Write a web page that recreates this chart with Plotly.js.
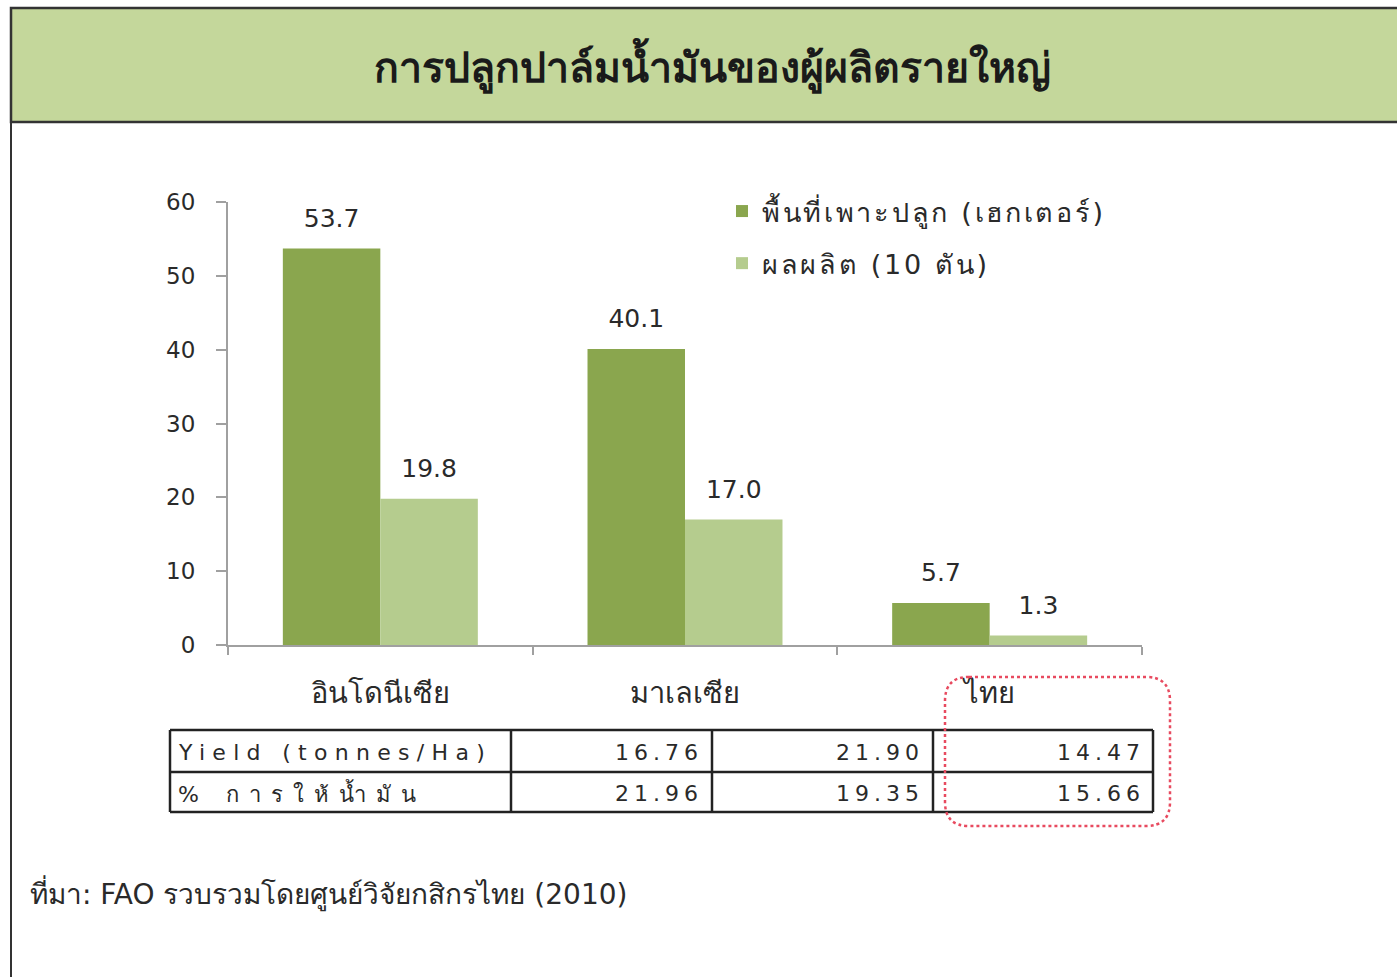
<!DOCTYPE html>
<html>
<head>
<meta charset="utf-8">
<script src="https://cdn.plot.ly/plotly-3.0.1.min.js"></script>
<style>html,body{margin:0;padding:0;background:#fff;}#chart{width:1397px;height:977px;}</style>
</head>
<body>
<div id="chart"></div>
<script>
// ---- data ----
const countries = ['อินโดนีเซีย', 'มาเลเซีย', 'ไทย'];
const seriesNames = ['พื้นที่เพาะปลูก (เฮกเตอร์)', 'ผลผลิต (10 ตัน)'];
const plantedArea = [53.7, 40.1, 5.7];
const production = [19.8, 17.0, 1.3];
const rowLabels = ['Yield (tonnes/Ha)', '% การให้น้ำมัน'];
const yieldValues = ['16.76', '21.90', '14.47'];
const oilPercent = ['21.96', '19.35', '15.66'];
const yTicks = [0, 10, 20, 30, 40, 50, 60];
const titleText = 'การปลูกปาล์มน้ำมันของผู้ผลิตรายใหญ่';
const sourceText = 'ที่มา: FAO รวบรวมโดยศูนย์วิจัยกสิกรไทย (2010)';

// ---- pixel helpers (plot area) ----
const L = 228, R = 1142, T = 202, B = 645, W = 1397, H = 977;
const px = x => (x - L) / (R - L);
const py = y => (B - y) / (B - T);

const FONT = '"DejaVu Sans", "Noto Sans", sans-serif';
const TXT = '#2a2a2a';
const ls = (s, n) => '<span style="letter-spacing:' + n + 'px">' + s + '</span>';

const labelTpl = '<span style="font-size:25px">%{y:.1f}</span><br> ';
const traces = [
  {type: 'bar', name: ls(seriesNames[0], 2.7), x: countries, y: plantedArea,
   marker: {color: '#8aa64e'}, texttemplate: labelTpl, textposition: 'outside',
   textfont: {size: 12, color: TXT, family: FONT}, cliponaxis: false, hoverinfo: 'skip',
   legendgroup: 'a'},
  {type: 'bar', name: ls(seriesNames[1], 2.7), x: countries, y: production,
   marker: {color: '#b5cc8e'}, texttemplate: labelTpl, textposition: 'outside',
   textfont: {size: 12, color: TXT, family: FONT}, cliponaxis: false, hoverinfo: 'skip',
   legendgroup: 'b'}
];

const shapes = [];
const annotations = [];

// header band
shapes.push({type: 'rect', xref: 'paper', yref: 'paper', layer: 'below',
  x0: px(11), x1: px(1405), y0: py(122), y1: py(8),
  fillcolor: '#c4d79b', line: {color: '#333', width: 2.5}});
// left border
shapes.push({type: 'line', xref: 'paper', yref: 'paper',
  x0: px(11), x1: px(11), y0: py(122), y1: py(985), line: {color: '#333', width: 2}});

// table grid
const tX = [170, 511, 712, 933, 1153];
const tY = [730, 772, 812];
tY.forEach(y => shapes.push({type: 'line', xref: 'paper', yref: 'paper',
  x0: px(tX[0]), x1: px(tX[tX.length - 1]), y0: py(y), y1: py(y), line: {color: '#222', width: 2.5}}));
tX.forEach(x => shapes.push({type: 'line', xref: 'paper', yref: 'paper',
  x0: px(x), x1: px(x), y0: py(tY[0]), y1: py(tY[tY.length - 1]), line: {color: '#222', width: 2.5}}));

// red dotted rounded highlight
(function () {
  const x0 = 945, x1 = 1170, y0 = 677, y1 = 826, r = 24;
  const P = (x, y) => px(x) + ',' + py(y);
  const path = 'M' + P(x0 + r, y0) + ' L' + P(x1 - r, y0) + ' Q' + P(x1, y0) + ' ' + P(x1, y0 + r) +
    ' L' + P(x1, y1 - r) + ' Q' + P(x1, y1) + ' ' + P(x1 - r, y1) +
    ' L' + P(x0 + r, y1) + ' Q' + P(x0, y1) + ' ' + P(x0, y1 - r) +
    ' L' + P(x0, y0 + r) + ' Q' + P(x0, y0) + ' ' + P(x0 + r, y0) + ' Z';
  shapes.push({type: 'path', xref: 'paper', yref: 'paper', path: path,
    line: {color: '#e84a5f', width: 2.5, dash: 'dot'}});
})();

// table text
const rowY = [752, 793];
const rows = [yieldValues, oilPercent];
const rowSpacing = [7.3, 10];
rowLabels.forEach((lab, i) => annotations.push({xref: 'paper', yref: 'paper',
  x: px(176), y: py(rowY[i]), xanchor: 'left', yanchor: 'middle', showarrow: false,
  text: ls(lab, rowSpacing[i]), font: {size: 22, color: TXT, family: FONT}}));
const valRight = [705, 926, 1147];
rows.forEach((vals, i) => vals.forEach((v, j) => annotations.push({xref: 'paper', yref: 'paper',
  x: px(valRight[j]), y: py(rowY[i]), xanchor: 'right', yanchor: 'middle', showarrow: false,
  text: ls(v, 5), font: {size: 22, color: TXT, family: FONT}})));

// source
annotations.push({xref: 'paper', yref: 'paper', x: px(28), y: py(893), xanchor: 'left', yanchor: 'middle',
  showarrow: false, text: sourceText, font: {size: 28, color: TXT, family: FONT}});

const layout = {
  width: W, height: H,
  margin: {l: L, r: W - R, t: T, b: H - B, pad: 0},
  paper_bgcolor: '#ffffff', plot_bgcolor: '#ffffff',
  showlegend: true,
  title: {text: '<b>' + titleText + '</b>', x: 0.51, xanchor: 'center', y: 1 - 68 / H, yanchor: 'middle',
    yref: 'container', font: {size: 41, color: '#1a1a1a', family: FONT}},
  barmode: 'group', bargap: 0.36, bargroupgap: 0,
  xaxis: {type: 'category', showline: true, linecolor: '#a0a0a0', linewidth: 2,
    ticks: 'outside', tickson: 'boundaries', ticklen: 8, tickcolor: '#a0a0a0', tickwidth: 2,
    tickfont: {size: 29, color: TXT, family: FONT}, ticklabelstandoff: 21, showgrid: false, zeroline: false,
    fixedrange: true},
  yaxis: {range: [0, 60], tickvals: yTicks, showline: true, linecolor: '#a0a0a0', linewidth: 2,
    ticks: 'outside', ticklen: 10, tickcolor: '#a0a0a0', tickwidth: 2, showgrid: false, zeroline: false,
    tickfont: {size: 23, color: TXT, family: FONT}, ticklabelstandoff: 16, fixedrange: true},
  legend: {x: px(722), y: py(187), xanchor: 'left', yanchor: 'top', bgcolor: 'rgba(0,0,0,0)',
    font: {size: 27, color: TXT, family: FONT}, itemwidth: 30, tracegroupgap: 14,
    traceorder: 'grouped'},
  shapes: shapes,
  annotations: annotations
};

Plotly.newPlot('chart', traces, layout, {displayModeBar: false, staticPlot: true});
</script>
</body>
</html>
